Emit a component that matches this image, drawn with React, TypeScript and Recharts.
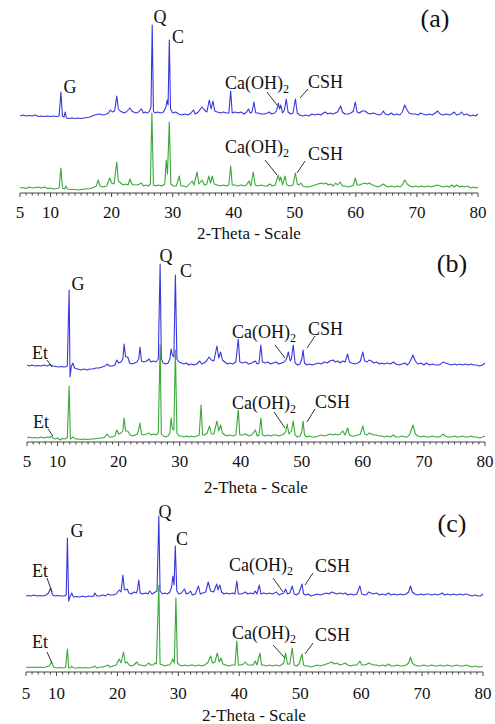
import React from 'react';
import { LineChart, Line, XAxis, YAxis } from 'recharts';

type P = [number, number];

// Intensities in display units above each trace's own baseline
const blueA: P[] = [[5,1],[5.5,2],[6,1],[6.5,1.5],[7,1],[7.5,2],[8,0.5],[8.5,1],[9,0.5],[9.5,1],[10,0.5],[10.5,1],[11,0.5],[11.4,1],[11.7,25],[11.95,1],[12.2,0],[12.4,5],[12.6,-1],[13,-1.5],[13.5,-1],[14,-1.5],[14.5,-1],[15,-1.5],[15.5,-1],[16,-0.5],[16.5,0],[17,1.5],[17.5,2.5],[18,3],[18.5,2],[19,2.5],[19.5,4],[19.8,7],[20.1,5],[20.5,6],[20.85,21],[21.1,8],[21.4,6],[21.7,5],[22,4],[22.4,5],[22.7,7],[23.0,9],[23.3,6],[23.6,5],[24,4],[24.4,5],[24.7,7],[24.9,8],[25.2,4],[25.5,5],[25.9,4],[26.2,6],[26.45,10],[26.65,92],[26.85,6],[27.1,4],[27.5,5],[28,4],[28.5,5],[28.9,10],[29.1,17],[29.25,12],[29.45,77],[29.65,8],[30,4],[30.5,5],[31,3],[31.5,2],[32,3],[32.5,2],[33,4],[33.4,7],[33.7,3],[34.2,5],[34.8,10],[35.2,7],[35.6,5],[36.0,17],[36.3,8],[36.6,16],[36.9,6],[37.3,5],[37.8,4],[38.3,5],[38.8,4],[39.2,4],[39.5,26],[39.75,4],[40.2,5],[40.7,4],[41.2,5],[41.7,3],[42.1,5],[42.4,8],[42.7,4],[43.0,5],[43.3,15],[43.6,4],[44,4],[44.5,3],[45,3],[45.5,4],[45.8,5],[46.2,3],[46.7,4],[47.0,6],[47.3,14],[47.5,8],[47.7,12],[48,4],[48.3,7],[48.6,18],[48.9,5],[49.3,3],[49.7,4],[50.1,18],[50.4,4],[50.8,2],[51.3,1],[51.8,2],[52.3,1],[52.8,3],[53.3,2],[53.8,3],[54.3,2],[54.7,4],[55.0,5],[55.4,3],[55.8,4],[56.2,3],[56.6,4],[57.0,5],[57.5,11],[57.8,5],[58.2,3],[58.7,3],[59.2,4],[59.6,6],[59.9,15],[60.2,5],[60.6,4],[61.0,6],[61.5,6],[61.9,4],[62.3,3],[62.8,4],[63.3,3],[63.8,2],[64.2,3],[64.5,6],[64.8,3],[65.3,2],[65.8,4],[66.2,2],[66.7,3],[67.2,2],[67.6,5],[68.0,12],[68.3,8],[68.7,4],[69.2,3],[69.7,3],[70.2,2],[70.6,4],[71.0,3],[71.5,2],[72.0,3],[72.5,2],[73.0,4],[73.4,6],[73.8,3],[74.3,2],[74.8,3],[75.3,2],[75.7,3],[76.1,5],[76.5,2],[77.0,3],[77.3,5],[77.7,2],[78.2,3],[78.7,1],[79.2,2],[79.6,1],[80,3]];

const greenA: P[] = [[5,1],[5.5,1.5],[6,0.5],[6.5,2],[7,1],[7.5,1.5],[8,2],[8.5,1],[9,2],[9.5,0.5],[10,1],[10.5,0],[11,0.5],[11.4,1],[11.7,21],[11.95,1],[12.3,0],[12.5,3],[12.8,0],[13.3,-0.5],[14,-0.5],[14.5,-1],[15,-0.5],[15.5,0],[16,0],[16.5,0.5],[17,1.5],[17.5,3],[17.8,9],[18.1,3],[18.6,2],[19.2,3],[19.7,11],[20.0,6],[20.4,5],[20.85,27],[21.1,8],[21.5,6],[21.9,4],[22.3,5],[22.7,4],[23.0,10],[23.3,5],[23.7,4],[24.2,4],[24.6,5],[24.9,6],[25.2,3],[25.6,4],[26.0,3],[26.35,5],[26.6,76],[26.85,4],[27.2,3],[27.7,4],[28.2,3],[28.7,5],[28.95,29],[29.15,15],[29.45,67],[29.7,5],[30.1,3],[30.6,3],[31.1,13],[31.35,3],[31.8,3],[32.3,2],[32.6,4],[33.2,8],[33.5,4],[34.0,17],[34.3,5],[34.8,9],[35.2,4],[35.6,5],[35.9,13],[36.2,6],[36.5,13],[36.8,5],[37.3,4],[37.8,3],[38.3,4],[38.8,3],[39.2,4],[39.5,23],[39.75,4],[40.2,4],[40.7,3],[41.2,4],[41.7,3],[42.1,4],[42.5,8],[42.8,3],[43.2,17],[43.5,4],[44,3],[44.5,4],[45,3],[45.5,3],[45.9,5],[46.3,3],[46.8,4],[47.3,14],[47.5,8],[47.7,12],[48.0,4],[48.4,13],[48.7,4],[49.2,3],[49.7,4],[50.1,16],[50.4,5],[50.7,4],[51.0,6],[51.3,3],[51.8,2],[52.3,2],[52.8,3],[53.3,4],[53.8,5],[54.3,6],[54.7,5],[55.1,6],[55.5,4],[55.9,5],[56.3,3],[56.7,6],[57.0,4],[57.4,7],[57.8,3],[58.3,3],[58.8,2],[59.3,3],[59.6,4],[59.9,11],[60.2,4],[60.6,4],[61.0,5],[61.4,6],[61.8,5],[62.2,6],[62.7,4],[63.2,3],[63.6,2],[64.0,3],[64.5,5],[64.9,3],[65.3,2],[65.8,3],[66.3,2],[66.8,3],[67.3,2],[67.7,5],[68.0,9],[68.4,5],[68.8,3],[69.3,2],[69.8,3],[70.3,2],[70.8,3],[71.3,2],[71.8,3],[72.3,2],[72.8,3],[73.3,4],[73.8,3],[74.3,2],[74.8,3],[75.3,2],[75.7,4],[76.1,2],[76.5,4],[77.0,2],[77.4,3],[77.8,2],[78.3,3],[78.8,1],[79.3,2],[79.7,1],[80,2]];

const blueB: P[] = [[5,2],[5.4,1],[5.8,2],[6.3,1],[6.8,1.5],[7.3,1],[7.8,2],[8.3,1],[8.8,2.5],[9.2,1],[9.7,0.5],[10.2,0],[10.7,0.5],[11.2,0],[11.6,1],[11.9,77],[12.05,-10],[12.25,0],[12.5,4],[12.8,-1],[13.3,-2],[13.8,-3],[14.3,-2],[14.8,-3],[15.3,-2],[15.8,-2],[16.3,-1],[16.8,-1],[17.3,0],[17.8,1],[18.1,3],[18.5,1],[19.0,1],[19.4,2],[19.7,7],[20.0,4],[20.4,5],[20.7,8],[20.9,23],[21.15,10],[21.5,10],[21.8,4],[22.2,3],[22.6,4],[23.0,5],[23.3,8],[23.5,20],[23.75,6],[24.1,5],[24.6,6],[25.0,8],[25.3,5],[25.7,6],[26.1,5],[26.5,8],[26.8,103],[27.0,8],[27.3,4],[27.7,3],[28.1,4],[28.4,8],[28.6,18],[28.8,12],[29.05,10],[29.3,92],[29.55,8],[29.9,5],[30.3,4],[30.7,3],[31.1,4],[31.5,2],[31.9,3],[32.3,2],[32.8,3],[33.3,6],[33.6,3],[34.0,4],[34.4,6],[34.8,10],[35.2,7],[35.6,6],[36.1,21],[36.4,9],[36.7,15],[37.0,7],[37.4,5],[37.8,3],[38.2,4],[38.7,3],[39.2,5],[39.6,28],[39.85,5],[40.3,4],[40.8,5],[41.3,3],[41.8,4],[42.4,6],[42.7,3],[43.0,4],[43.3,22],[43.55,5],[44,4],[44.4,5],[44.9,3],[45.3,4],[45.8,5],[46.2,3],[46.7,4],[47.1,5],[47.5,8],[47.8,15],[48.1,6],[48.3,8],[48.6,22],[48.9,4],[49.3,2],[49.7,3],[50.0,8],[50.2,17],[50.45,4],[50.8,2],[51.2,3],[51.7,2],[52.2,3],[52.7,4],[53.2,3],[53.7,5],[54.2,4],[54.6,6],[55.1,7],[55.5,5],[55.9,6],[56.3,4],[56.7,6],[57.1,5],[57.5,13],[57.8,5],[58.2,4],[58.7,3],[59.2,4],[59.6,6],[60.0,15],[60.3,6],[60.7,5],[61.0,7],[61.4,6],[61.8,4],[62.2,5],[62.7,3],[63.1,4],[63.5,3],[64.0,4],[64.5,3],[65.0,5],[65.4,3],[65.9,2],[66.4,3],[66.9,4],[67.3,2],[67.7,5],[68.2,12],[68.6,6],[69.0,3],[69.5,4],[70.0,2],[70.4,4],[70.9,2],[71.4,3],[71.9,2],[72.4,2],[72.8,3],[73.1,5],[73.5,4],[74.0,3],[74.5,2],[75.0,3],[75.4,2],[75.8,3],[76.3,2],[76.8,3],[77.3,2],[77.7,3],[78.1,2],[78.6,2],[79.1,1],[79.6,2],[80,4]];

const greenB: P[] = [[5,1],[5.4,2],[5.8,1],[6.3,1.5],[6.8,1],[7.3,2],[7.8,1],[8.3,2],[8.7,1.5],[9.0,3],[9.3,0.5],[9.7,0],[10.0,1],[10.4,-1],[10.8,0.5],[11.2,0],[11.6,1],[11.9,53],[12.1,0],[12.35,1],[12.6,2],[12.9,0],[13.4,0],[13.9,-0.5],[14.4,0],[14.9,-0.5],[15.4,0],[15.9,0],[16.4,0.5],[16.9,1],[17.4,1],[17.8,2],[18.1,5],[18.5,2],[19.0,2],[19.4,3],[19.7,9],[20.0,5],[20.4,6],[20.7,8],[20.9,21],[21.15,8],[21.5,8],[21.9,4],[22.3,3],[22.7,4],[23.1,5],[23.3,10],[23.5,16],[23.75,5],[24.1,4],[24.6,5],[25.0,6],[25.3,4],[25.7,5],[26.1,4],[26.5,6],[26.8,94],[27.0,5],[27.3,3],[27.7,2],[28.1,3],[28.4,6],[28.6,21],[28.8,10],[29.05,9],[29.3,89],[29.55,6],[29.9,3],[30.3,3],[30.7,2],[31.1,3],[31.5,2],[31.9,3],[32.3,2],[32.8,3],[33.2,4],[33.5,34],[33.75,4],[34.1,4],[34.5,6],[34.9,13],[35.2,5],[35.6,5],[36.1,18],[36.4,8],[36.7,14],[37.0,6],[37.4,4],[37.8,3],[38.2,4],[38.7,3],[39.2,4],[39.6,29],[39.85,4],[40.3,4],[40.8,5],[41.3,3],[41.8,4],[42.4,9],[42.7,3],[43.0,4],[43.3,21],[43.55,4],[44,3],[44.4,4],[44.9,3],[45.3,4],[45.8,4],[46.2,3],[46.7,4],[47.1,5],[47.4,8],[47.6,15],[47.9,5],[48.3,8],[48.6,18],[48.9,4],[49.3,2],[49.7,3],[50.0,7],[50.2,18],[50.45,4],[50.8,2],[51.2,3],[51.7,2],[52.2,2],[52.7,3],[53.2,4],[53.7,3],[54.2,4],[54.6,5],[55.1,4],[55.5,5],[55.9,4],[56.3,5],[56.7,8],[57.1,4],[57.5,11],[57.8,4],[58.2,3],[58.7,3],[59.2,4],[59.6,5],[60.0,13],[60.3,5],[60.7,4],[61.0,6],[61.4,5],[61.8,4],[62.2,4],[62.7,3],[63.1,3],[63.5,2],[64.0,3],[64.5,2],[65.0,4],[65.4,2],[65.9,2],[66.4,3],[66.9,2],[67.3,2],[67.7,5],[68.2,14],[68.6,5],[69.0,3],[69.5,2],[70.0,3],[70.4,2],[70.9,2],[71.4,3],[71.9,2],[72.4,2],[72.8,3],[73.1,5],[73.5,3],[74.0,2],[74.5,2],[75.0,3],[75.4,2],[75.8,2],[76.3,3],[76.8,2],[77.3,2],[77.7,3],[78.1,2],[78.6,2],[79.1,1],[79.6,2],[80,3]];

const blueC: P[] = [[5,1],[5.4,1.5],[5.8,1],[6.3,2],[6.8,1],[7.3,1.5],[7.8,1],[8.3,2],[8.7,4],[9.05,9],[9.35,2],[9.8,1],[10.3,1.5],[10.8,1],[11.3,1],[11.6,2],[11.8,59],[12.0,-4],[12.2,0],[12.5,4],[12.8,0],[13.3,0.5],[13.8,0],[14.3,1],[14.8,0],[15.3,1],[15.8,0.5],[16.1,1],[16.3,4],[16.6,1],[17.1,1],[17.6,2],[18.1,1],[18.4,3],[18.8,2],[19.3,2],[19.8,3],[20.3,7],[20.6,5],[20.9,22],[21.15,7],[21.6,8],[21.9,4],[22.3,3],[22.7,5],[23.1,4],[23.3,7],[23.5,17],[23.75,4],[24.1,3],[24.6,4],[25.0,3],[25.3,6],[25.7,3],[26.2,5],[26.5,6],[26.8,81],[27.0,6],[27.4,3],[27.8,4],[28.2,3],[28.6,5],[28.9,10],[29.1,21],[29.3,12],[29.5,51],[29.75,6],[30.1,3],[30.5,4],[31.0,8],[31.3,3],[31.7,4],[32.0,6],[32.3,2],[32.8,3],[33.3,11],[33.6,3],[34.0,4],[34.5,5],[34.9,15],[35.3,6],[35.8,5],[36.3,13],[36.5,7],[36.8,12],[37.1,5],[37.5,3],[37.9,4],[38.4,3],[38.9,4],[39.3,3],[39.6,16],[39.85,3],[40.3,3],[40.7,4],[41.0,5],[41.4,3],[41.9,4],[42.3,3],[42.6,6],[42.9,3],[43.3,12],[43.55,3],[44.0,4],[44.5,3],[44.9,4],[45.4,3],[45.8,4],[46.1,5],[46.5,2],[46.9,3],[47.3,4],[47.6,8],[47.9,3],[48.3,4],[48.7,11],[49.0,3],[49.4,2],[49.8,4],[50.3,13],[50.55,3],[50.9,2],[51.3,3],[51.8,1],[52.3,2],[52.8,3],[53.3,2],[53.8,3],[54.3,4],[54.7,3],[55.2,5],[55.6,4],[56.0,3],[56.5,4],[57.0,3],[57.4,4],[57.8,2],[58.3,3],[58.8,2],[59.3,3],[59.8,11],[60.1,3],[60.6,2],[61.0,3],[61.2,5],[61.6,4],[62.0,3],[62.5,4],[63.0,2],[63.5,3],[64.0,2],[64.5,4],[64.9,2],[65.4,3],[65.9,2],[66.4,3],[66.9,2],[67.4,3],[67.8,5],[68.1,11],[68.4,5],[68.8,3],[69.3,2],[69.8,3],[70.3,2],[70.7,3],[71.1,3],[71.6,2],[72.1,3],[72.6,2],[73.0,3],[73.3,4],[73.7,2],[74.2,3],[74.7,2],[75.2,3],[75.7,2],[76.2,3],[76.7,2],[77.2,3],[77.7,2],[78.2,1],[78.7,2],[79.2,1],[79.6,1],[80,3]];

const greenC: P[] = [[5,0.5],[5.4,1],[5.8,0.5],[6.3,1],[6.8,0.5],[7.3,1],[7.8,0.5],[8.3,1],[8.8,2],[9.2,6],[9.5,1],[10.0,0],[10.5,0.5],[11.0,0],[11.5,0.5],[11.8,19],[12.0,0],[12.3,0],[12.5,2],[12.8,0],[13.3,0],[13.8,0.5],[14.3,0],[14.8,0.5],[15.3,0],[15.8,0.5],[16.3,2],[16.6,0],[17.1,1],[17.6,1],[18.1,2],[18.4,3],[18.8,1],[19.3,2],[19.8,3],[20.3,9],[20.6,5],[21.0,16],[21.3,5],[21.6,6],[21.9,3],[22.3,2],[22.7,3],[23.2,6],[23.5,3],[23.9,3],[24.4,2],[24.8,3],[25.1,5],[25.5,3],[25.9,3],[26.1,5],[26.4,4],[26.8,83],[27.0,4],[27.4,3],[27.8,2],[28.2,3],[28.6,3],[29.1,9],[29.35,5],[29.6,70],[29.85,5],[30.2,3],[30.6,2],[31.1,3],[31.6,2],[32.0,3],[32.3,3],[32.8,2],[33.3,3],[33.8,2],[34.3,3],[34.8,5],[35.3,12],[35.6,5],[36.0,6],[36.4,15],[36.7,6],[37.0,10],[37.3,4],[37.8,3],[38.3,2],[38.8,3],[39.3,3],[39.6,27],[39.85,3],[40.3,3],[40.7,4],[41.0,6],[41.4,3],[41.9,3],[42.3,3],[42.6,7],[42.9,3],[43.4,15],[43.65,3],[44.0,3],[44.5,2],[45.0,3],[45.5,2],[46.1,3],[46.5,2],[46.9,3],[47.3,5],[47.6,15],[47.9,4],[48.3,4],[48.7,20],[49.0,3],[49.4,2],[49.8,4],[50.3,14],[50.55,3],[50.9,2],[51.3,2],[51.8,1],[52.3,2],[52.8,3],[53.3,2],[53.8,3],[54.3,4],[54.8,5],[55.2,6],[55.6,4],[56.0,5],[56.5,3],[57.0,4],[57.4,5],[57.8,3],[58.3,2],[58.8,3],[59.3,3],[59.8,7],[60.1,3],[60.6,3],[61.0,4],[61.2,5],[61.6,4],[62.0,3],[62.5,3],[63.0,2],[63.5,3],[64.0,2],[64.5,4],[64.9,2],[65.4,2],[65.9,3],[66.4,2],[66.9,2],[67.4,3],[67.8,5],[68.1,11],[68.4,5],[68.8,3],[69.3,2],[69.8,2],[70.3,3],[70.7,2],[71.1,2],[71.6,3],[72.1,2],[72.6,2],[73.0,3],[73.3,2],[73.7,2],[74.2,3],[74.7,2],[75.2,2],[75.7,3],[76.2,2],[76.7,2],[77.2,3],[77.7,2],[78.2,1],[78.7,2],[79.2,1],[79.6,1],[80,2]];

const majorTicks = [5, 10, 20, 30, 40, 50, 60, 70, 80];
const minorTicks = Array.from({ length: 76 }, (_, i) => 5 + i);
const axisTitle = '2-Theta - Scale';

const BLUE = '#3737dc';
const GREEN = '#38a838';
const INK = '#111';
const SERIF = "'Liberation Serif', 'Times New Roman', Times, 'DejaVu Serif', serif";
const serifStyle: React.CSSProperties = { fontFamily: SERIF };

type PanelProps = {
  top: number; height: number; left: number; right: number;
  axis: number; gOff: number; bOff: number;
  blue: P[]; green: P[]; labelDy: number;
};

function Panel({ top, height, left, right, axis, gOff, bOff, blue, green, labelDy }: PanelProps) {
  const bd = blue.map(([x, y]) => ({ x, y: y + bOff }));
  const gd = green.map(([x, y]) => ({ x, y }));
  const renderTick = (p: any) => {
    const v = p.payload.value;
    const major = majorTicks.includes(v);
    return (
      <g>
        <line x1={p.x} x2={p.x} y1={p.y} y2={p.y + (major ? 4 : 2.5)} stroke="#444" strokeWidth={1} />
        {major && (
          <text x={p.x} y={p.y + labelDy} textAnchor="middle" style={serifStyle} fontSize={17} fill={INK}>{v}</text>
        )}
      </g>
    );
  };
  return (
    <div style={{ position: 'absolute', left: 0, top, width: 495, height }}>
      <LineChart width={495} height={height} margin={{ top: 0, bottom: 0, left, right: 495 - right }}>
        <XAxis type="number" dataKey="x" domain={[5, 80]} ticks={minorTicks} interval={0}
          tickSize={0} tickMargin={0} tickLine={false} tick={renderTick}
          axisLine={{ stroke: '#444', strokeWidth: 1 }} height={height - axis} allowDataOverflow />
        <YAxis hide type="number" domain={[-gOff, axis - gOff]} allowDataOverflow />
        <Line data={gd} dataKey="y" stroke={GREEN} strokeWidth={1.1} dot={false} isAnimationActive={false} strokeLinejoin="round" />
        <Line data={bd} dataKey="y" stroke={BLUE} strokeWidth={1.1} dot={false} isAnimationActive={false} strokeLinejoin="round" />
      </LineChart>
    </div>
  );
}

const T = (props: { x: number; y: number; size?: number; anchor?: string; children: React.ReactNode }) => (
  <text x={props.x} y={props.y} fontSize={props.size ?? 18} textAnchor={props.anchor ?? 'start'} style={serifStyle} fill={INK}>{props.children}</text>
);
const CaOH = ({ x, y }: { x: number; y: number }) => (
  <text x={x} y={y} fontSize={18} style={serifStyle} fill={INK}>Ca(OH)<tspan fontSize={12} dy={4}>2</tspan></text>
);
const L = ({ a, b }: { a: [number, number]; b: [number, number] }) => (
  <line x1={a[0]} y1={a[1]} x2={b[0]} y2={b[1]} stroke="#333" strokeWidth={1} />
);

export default function App() {
  return (
    <div style={{ position: 'absolute', left: 0, top: 0, width: 495, height: 724, background: '#fff', overflow: 'hidden', fontFamily: SERIF }}>
      <Panel top={0} height={240} left={20} right={478} axis={193} gOff={4} bOff={72} blue={blueA} green={greenA} labelDy={25} />
      <Panel top={240} height={255} left={27} right={485} axis={202} gOff={3} bOff={72} blue={blueB} green={greenB} labelDy={25} />
      <Panel top={490} height={234} left={26} right={483} axis={182} gOff={4} bOff={71} blue={blueC} green={greenC} labelDy={27} />
      <svg width={495} height={724} style={{ position: 'absolute', left: 0, top: 0, pointerEvents: 'none' }}>
        {/* axis titles */}
        <T x={249} y={238.5} size={17} anchor="middle">{axisTitle}</T>
        <T x={256} y={493} size={17} anchor="middle">{axisTitle}</T>
        <T x={254} y={720.5} size={17} anchor="middle">{axisTitle}</T>
        {/* panel (a) */}
        <T x={435} y={27} size={26} anchor="middle">(a)</T>
        <T x={70} y={93} anchor="middle">G</T>
        <T x={160} y={23} anchor="middle">Q</T>
        <T x={178} y={43} anchor="middle">C</T>
        <CaOH x={225} y={89} />
        <L a={[267, 92]} b={[277, 105]} />
        <T x={308} y={88}>CSH</T>
        <L a={[308, 89]} b={[300, 98]} />
        <CaOH x={225} y={153} />
        <L a={[265, 160]} b={[277, 175]} />
        <T x={308} y={160}>CSH</T>
        <L a={[305, 161]} b={[297, 173]} />
        {/* panel (b) */}
        <T x={452} y={272} size={26} anchor="middle">(b)</T>
        <T x={78} y={290} anchor="middle">G</T>
        <T x={166} y={262} anchor="middle">Q</T>
        <T x={186} y={277} anchor="middle">C</T>
        <T x={32} y={359}>Et</T>
        <L a={[47, 360]} b={[52, 367]} />
        <T x={33} y={428}>Et</T>
        <L a={[48, 429]} b={[53, 436]} />
        <CaOH x={232} y={338} />
        <L a={[275, 345]} b={[285, 358]} />
        <T x={308} y={335}>CSH</T>
        <L a={[315, 336]} b={[307, 348]} />
        <CaOH x={232} y={409} />
        <L a={[274, 412]} b={[285, 428]} />
        <T x={315} y={408}>CSH</T>
        <L a={[315, 409]} b={[307, 422]} />
        {/* panel (c) */}
        <T x={452} y={532} size={26} anchor="middle">(c)</T>
        <T x={77} y={537} anchor="middle">G</T>
        <T x={165} y={518} anchor="middle">Q</T>
        <T x={182} y={545} anchor="middle">C</T>
        <T x={32} y={577}>Et</T>
        <L a={[47, 578]} b={[52, 592]} />
        <T x={32} y={648}>Et</T>
        <L a={[47, 652]} b={[52, 663]} />
        <CaOH x={229} y={571} />
        <L a={[273, 578]} b={[283, 592]} />
        <T x={315} y={572}>CSH</T>
        <L a={[313, 573]} b={[305, 585]} />
        <CaOH x={232} y={639} />
        <L a={[273, 645]} b={[285, 658]} />
        <T x={315} y={641}>CSH</T>
        <L a={[313, 643]} b={[305, 654]} />
      </svg>
    </div>
  );
}
